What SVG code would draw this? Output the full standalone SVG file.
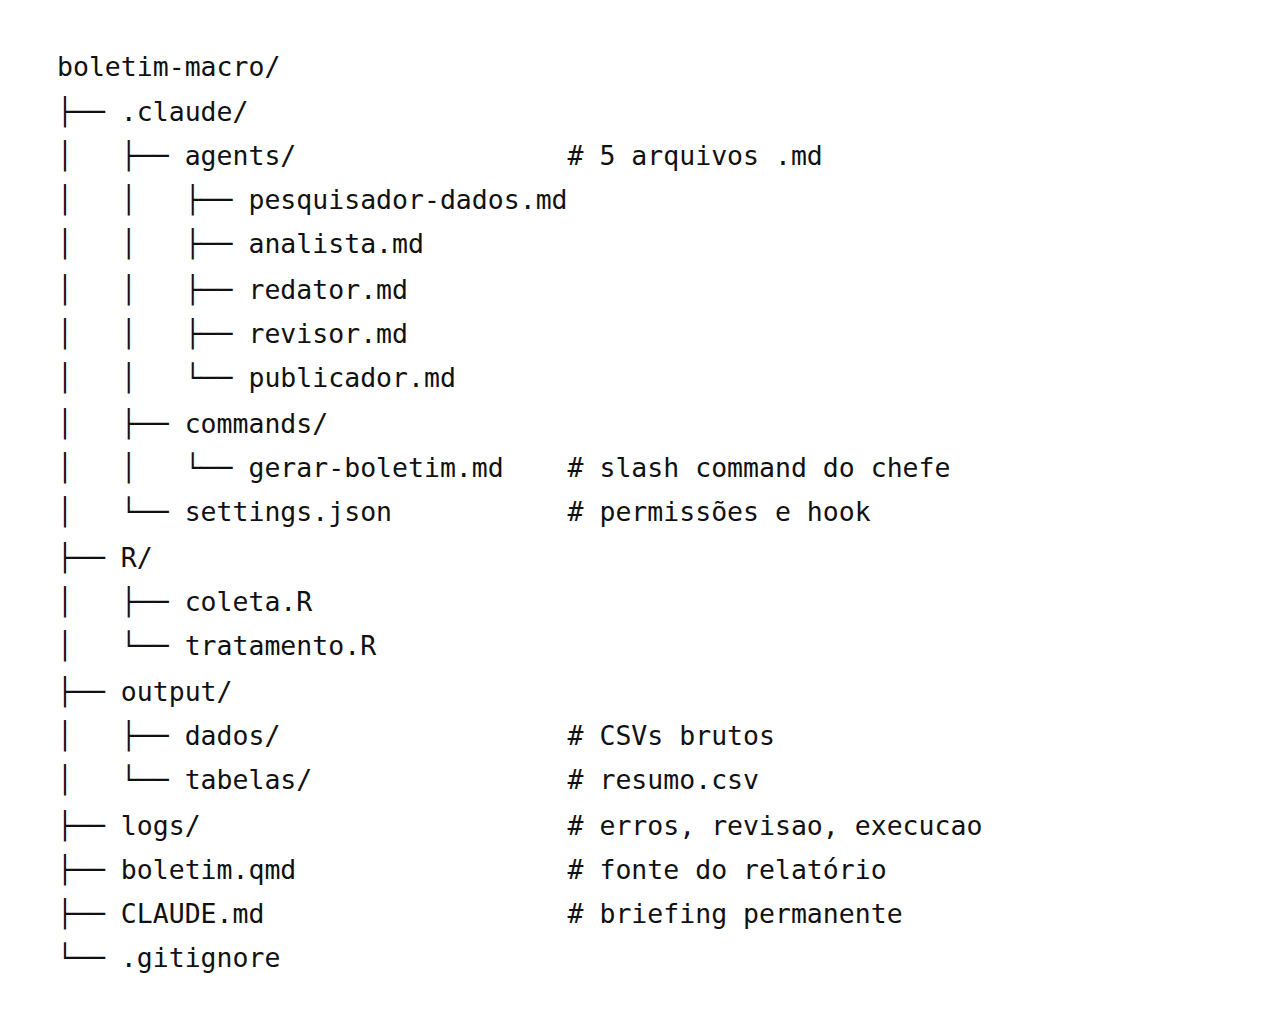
<svg xmlns="http://www.w3.org/2000/svg" width="1280" height="1026" viewBox="0 0 1280 1026">
<style>
text{font-family:"DejaVu Sans Mono","Liberation Mono",monospace;font-size:26.5px;fill:#111;white-space:pre}
</style>
<rect width="1280" height="1026" fill="#fff"/>
<g id="tree" xml:space="preserve">
<text x="57" y="76">boletim-macro/</text>
<text x="57" y="121">├── .claude/</text>
<text x="57" y="165">│   ├── agents/                 # 5 arquivos .md</text>
<text x="57" y="209">│   │   ├── pesquisador-dados.md</text>
<text x="57" y="253">│   │   ├── analista.md</text>
<text x="57" y="299">│   │   ├── redator.md</text>
<text x="57" y="343">│   │   ├── revisor.md</text>
<text x="57" y="387">│   │   └── publicador.md</text>
<text x="57" y="433">│   ├── commands/</text>
<text x="57" y="477">│   │   └── gerar-boletim.md    # slash command do chefe</text>
<text x="57" y="521">│   └── settings.json           # permissões e hook</text>
<text x="57" y="567">├── R/</text>
<text x="57" y="611">│   ├── coleta.R</text>
<text x="57" y="655">│   └── tratamento.R</text>
<text x="57" y="701">├── output/</text>
<text x="57" y="745">│   ├── dados/                  # CSVs brutos</text>
<text x="57" y="789">│   └── tabelas/                # resumo.csv</text>
<text x="57" y="835">├── logs/                       # erros, revisao, execucao</text>
<text x="57" y="879">├── boletim.qmd                 # fonte do relatório</text>
<text x="57" y="923">├── CLAUDE.md                   # briefing permanente</text>
<text x="57" y="967">└── .gitignore</text>
</g>
</svg>
